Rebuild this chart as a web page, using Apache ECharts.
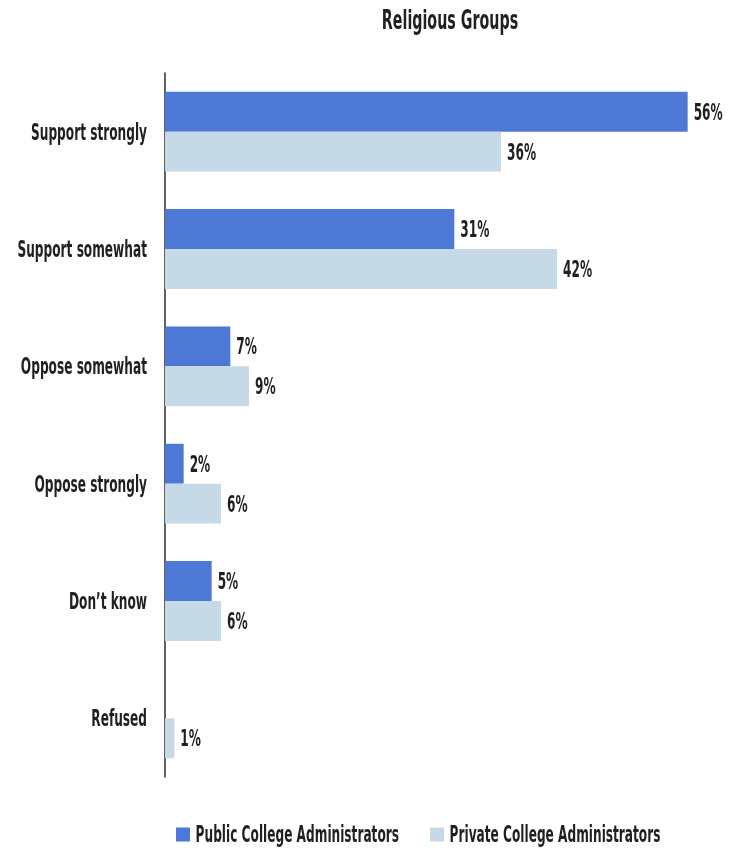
<!DOCTYPE html>
<html>
<head>
<meta charset="utf-8">
<script src="https://cdn.jsdelivr.net/npm/echarts@6/dist/echarts.min.js"></script>
<style>
  html, body { margin: 0; padding: 0; background: #ffffff; }
  #chart { width: 733px; height: 850px; }
</style>
</head>
<body>
<div id="chart"></div>
<script>
// Survey responses, percent of administrators
const categories = ['Support strongly', 'Support somewhat', 'Oppose somewhat', 'Oppose strongly', 'Don\u2019t know', 'Refused'];
const publicValues = [56, 31, 7, 2, 5, 0];
const privateValues = [36, 42, 9, 6, 6, 1];
const seriesNames = ['Public College Administrators', 'Private College Administrators'];

const FONT = '"DejaVu Sans Condensed", "DejaVu Sans", sans-serif';
const WEIGHT = 'bold';
const TEXT = '#231f20';
const LABEL_SIZE = 23;
const TITLE_SIZE = 27;
// DejaVu sits a little high when centred; nudge text down
const TEXT_DROP = 2;

// Horizontal squeeze that turns the installed sans into a tall condensed face
function condenseFactor() {
  const ctx = document.createElement('canvas').getContext('2d');
  ctx.font = WEIGHT + ' ' + LABEL_SIZE + 'px ' + FONT;
  return 116 / ctx.measureText('Support strongly').width;
}

const chart = echarts.init(document.getElementById('chart'));

function barLabel() {
  return {
    show: true,
    position: 'right',
    distance: 6,
    offset: [0, TEXT_DROP],
    color: TEXT,
    fontFamily: FONT,
    fontWeight: WEIGHT,
    fontSize: LABEL_SIZE,
    formatter: p => (p.value > 0 ? p.value + '%' : '')
  };
}

function legendFor(name, left) {
  return {
    data: [name],
    orient: 'horizontal',
    left: left,
    top: 818,
    itemWidth: 14,
    itemHeight: 14,
    itemGap: 0,
    icon: 'rect',
    formatter: n => '\u00a0\u00a0' + n,
    textStyle: { fontFamily: FONT, fontWeight: WEIGHT, fontSize: LABEL_SIZE, color: TEXT }
  };
}

chart.setOption({
  animation: false,
  title: {
    text: 'Religious Groups',
    left: 445,
    textAlign: 'center',
    top: 1,
    textStyle: { fontFamily: FONT, fontSize: TITLE_SIZE, fontWeight: WEIGHT, color: TEXT }
  },
  legend: [legendFor(seriesNames[0], 171), legendFor(seriesNames[1], 425)],
  grid: { left: 165, top: 73, width: 560, height: 704, containLabel: false, outerBoundsMode: 'none' },
  xAxis: {
    type: 'value',
    min: 0,
    max: 60,
    show: false
  },
  yAxis: {
    type: 'category',
    data: categories,
    inverse: true,
    axisLine: { show: true, lineStyle: { color: '#2b2b2b', width: 1.5 } },
    axisTick: { show: false },
    axisLabel: {
      margin: 18,
      color: TEXT,
      fontFamily: FONT,
      fontWeight: WEIGHT,
      fontSize: LABEL_SIZE
    }
  },
  series: [
    {
      name: seriesNames[0],
      type: 'bar',
      data: publicValues,
      barGap: '0%',
      barCategoryGap: '32%',
      itemStyle: { color: '#4d78d6' },
      label: barLabel()
    },
    {
      name: seriesNames[1],
      type: 'bar',
      data: privateValues,
      itemStyle: { color: '#c6d9e7' },
      label: barLabel()
    }
  ]
});

// Squeeze every text element around its own anchor point; free-standing
// texts (axis labels, title, legend) also take the downward nudge
(function condenseText() {
  const s = condenseFactor();
  const zr = chart.getZr();
  const done = new Set();
  zr.storage.getDisplayList(true).forEach(function (el) {
    const host = el.parent;
    if (el.type === 'tspan' && host && !done.has(host)) {
      done.add(host);
      host.scaleX = s;
      if (!host.__hostTarget) {
        host.y += TEXT_DROP;
      }
      host.markRedraw();
    }
  });
  zr.refreshImmediately();
})();
</script>
</body>
</html>
